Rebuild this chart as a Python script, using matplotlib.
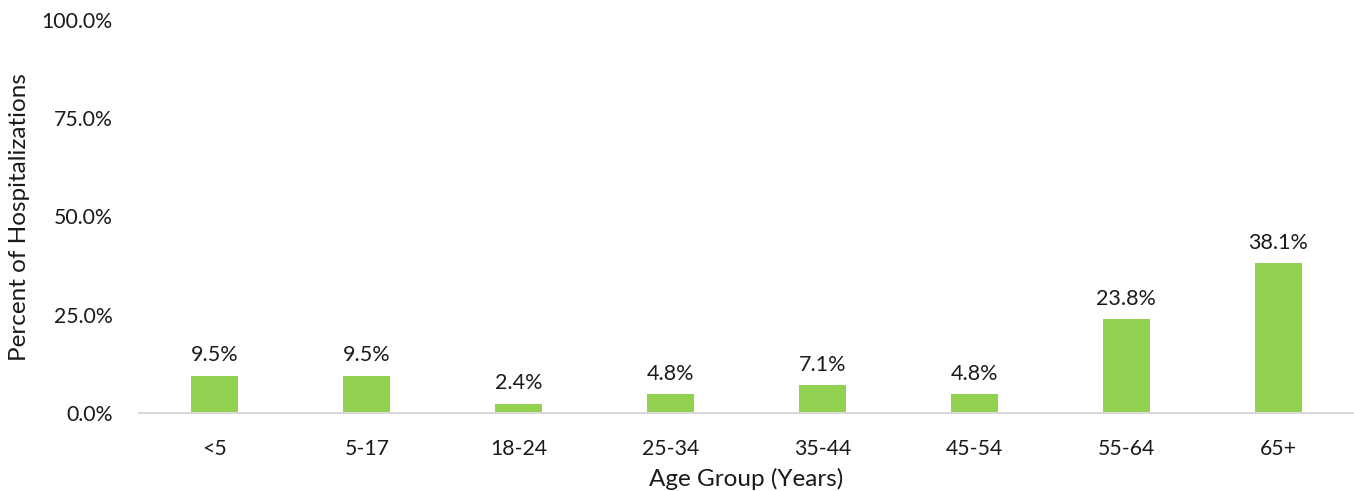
import matplotlib
matplotlib.use("Agg")
import matplotlib.pyplot as plt
from matplotlib.ticker import FuncFormatter

categories = ["<5", "5-17", "18-24", "25-34", "35-44", "45-54", "55-64", "65+"]
values = [9.5, 9.5, 2.4, 4.8, 7.1, 4.8, 23.8, 38.1]
yticks = [0, 25, 50, 75, 100]

plt.rcParams['font.family'] = ['Lato', 'DejaVu Sans']

fig = plt.figure(figsize=(13.54, 4.91), dpi=100)
ax = fig.add_axes([139/1354, 78/491, 1 - 139/1354, 393/491])

x = list(range(len(categories)))
ax.bar(x, values, width=0.31, color="#92D050", zorder=2)
for xi, v in zip(x, values):
    ax.text(xi, v + 2.6, f"{v:.1f}%", ha="center", va="bottom", fontsize=15.5, color="#1a1a1a")

ax.set_xlim(-0.5, len(categories) - 0.5)
ax.set_ylim(0, 100)
ax.set_yticks(yticks)
ax.yaxis.set_major_formatter(FuncFormatter(lambda v, p: f"{v:.1f}%"))
ax.set_xticks(x)
ax.set_xticklabels(categories)
ax.tick_params(axis="both", length=0, labelsize=15.3, colors="#1a1a1a")
ax.tick_params(axis="x", pad=19)
ax.tick_params(axis="y", pad=19)

for s in ["top", "right", "left"]:
    ax.spines[s].set_visible(False)
ax.spines["bottom"].set_color("#D9D9D9")
ax.spines["bottom"].set_linewidth(1.5)

ax.set_xlabel("Age Group (Years)", fontsize=17.5, color="#1a1a1a", labelpad=6)
fig.text(20/1354, 1 - 217/491, "Percent of Hospitalizations", rotation=90,
         ha="center", va="center", fontsize=17.5, color="#1a1a1a")

fig.savefig("out.png", dpi=100)
